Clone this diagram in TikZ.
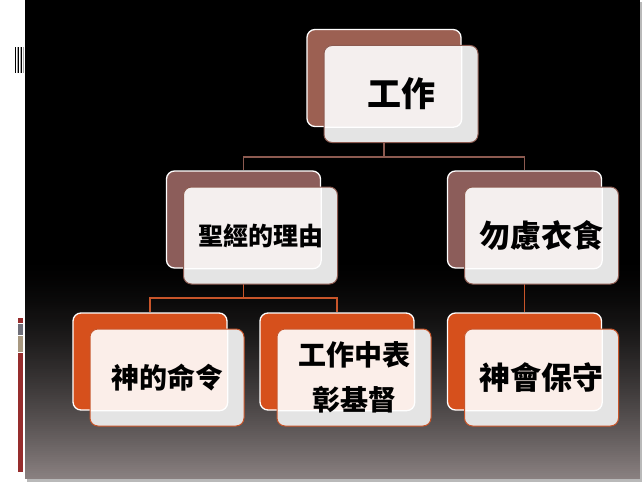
\documentclass[tikz,border=0pt]{standalone}
\usepackage{fontspec}
\newfontfamily\cjk{Noto Sans CJK TC}
\usetikzlibrary{backgrounds}
\definecolor{brownA}{HTML}{9C6052}
\definecolor{brownB}{HTML}{8C5D5A}
\definecolor{orangeA}{HTML}{D6501C}
\definecolor{lightA}{HTML}{F4EFEE}
\definecolor{lightB}{HTML}{FBEEE9}
\definecolor{grayfront}{HTML}{E4E4E4}
\definecolor{connA}{HTML}{8C5A50}
\definecolor{connB}{HTML}{C8552A}
\definecolor{bgbottom}{HTML}{8A8181}
\definecolor{barred}{HTML}{962D2D}
\definecolor{bargray}{HTML}{6E6E78}
\definecolor{bartan}{HTML}{A89880}
\tikzset{
  backbox/.style={minimum width=154pt, minimum height=97pt, inner sep=0pt,
    rounded corners=8pt, draw=white, line width=1.3pt, fill=#1},
  frontbox/.style={minimum width=154pt, minimum height=97pt, inner sep=0pt,
    rounded corners=8pt, fill=grayfront, draw=#1, line width=1pt, align=center},
  overlapA/.style={path picture={\fill[lightA, draw=white, line width=1.3pt, rounded corners=8pt]
    (#1.south west) rectangle (#1.north east);}},
  overlapB/.style={path picture={\fill[lightB, draw=white, line width=1.3pt, rounded corners=8pt]
    (#1.south west) rectangle (#1.north east);}},
  connline/.style={draw=#1, line width=1.4pt},
}
\begin{document}
\begin{tikzpicture}[x=1pt,y=-1pt]
\useasboundingbox (0,0) rectangle (644,484);
% nodes
\node[backbox=brownA] (topB) at (384,78) {};
\node[frontbox=connA, overlapA=topB, font=\cjk\bfseries\fontsize{34}{40}\selectfont] (top) at (401,94) {工作};
\node[backbox=brownB] (leftB) at (243.5,219.5) {};
\node[frontbox=connA, overlapA=leftB, font=\cjk\bfseries\fontsize{25}{30}\selectfont] (left) at (260.5,235.5) {聖經的理由};
\node[backbox=brownB] (rightB) at (524.5,219.5) {};
\node[frontbox=connA, overlapA=rightB, font=\cjk\bfseries\fontsize{31}{36}\selectfont] (right) at (541.5,235.5) {勿慮衣食};
\node[backbox=orangeA] (b1B) at (150,361.5) {};
\node[frontbox=connB, overlapB=b1B, font=\cjk\bfseries\fontsize{28}{34}\selectfont] (b1) at (167,377.5) {神的命令};
\node[backbox=orangeA] (b2B) at (337,361.5) {};
\node[frontbox=connB, overlapB=b2B, font=\cjk\bfseries\fontsize{28}{45}\selectfont] (b2) at (354,377.5) {工作中表\\彰基督};
\node[backbox=orangeA] (b3B) at (524.5,361.5) {};
\node[frontbox=connB, overlapB=b3B, font=\cjk\bfseries\fontsize{31}{36}\selectfont] (b3) at (541.5,377.5) {神會保守};
\begin{scope}[on background layer]
  % page and slide background
  \fill[white] (0,0) rectangle (644,484);
  \fill[gray!55] (27,2) rectangle (642,481.5);
  \fill[black] (25,0) rectangle (640,262);
  \foreach \i in {0,...,108} {
    \pgfmathsetmacro\p{100*(1-((\i+0.5)/109)^1.5)}
    \fill[black!\p!bgbottom] (25,261+2*\i) rectangle (640,263.4+2*\i);
  }
  % left stripes
  \foreach \xx in {15.6,18.6,21.6} {\fill[black] (\xx-0.6,47) rectangle (\xx+0.6,73);}
  \foreach \xx in {17.1,20.1,23.1} {\fill[gray!70] (\xx-0.5,47) rectangle (\xx+0.5,73);}
  % left bar
  \fill[barred] (18,318) rectangle (22.5,323);
  \fill[bargray] (18,324) rectangle (22.5,335);
  \fill[bartan] (18,336) rectangle (22.5,352);
  \fill[barred] (18,353) rectangle (22.5,472);
  % connectors
  \coordinate (j1) at (384,157);
  \draw[connline=connA] (topB.south) -- (j1) -| (leftB.north);
  \draw[connline=connA] (j1) -| (rightB.north);
  \coordinate (j2) at (243.5,298);
  \draw[connline=connB] (leftB.south) -- (j2) -| (b1B.north);
  \draw[connline=connB] (j2) -| (b2B.north);
  \draw[connline=connB] (rightB.south) -- (b3B.north);
\end{scope}
\end{tikzpicture}
\end{document}
